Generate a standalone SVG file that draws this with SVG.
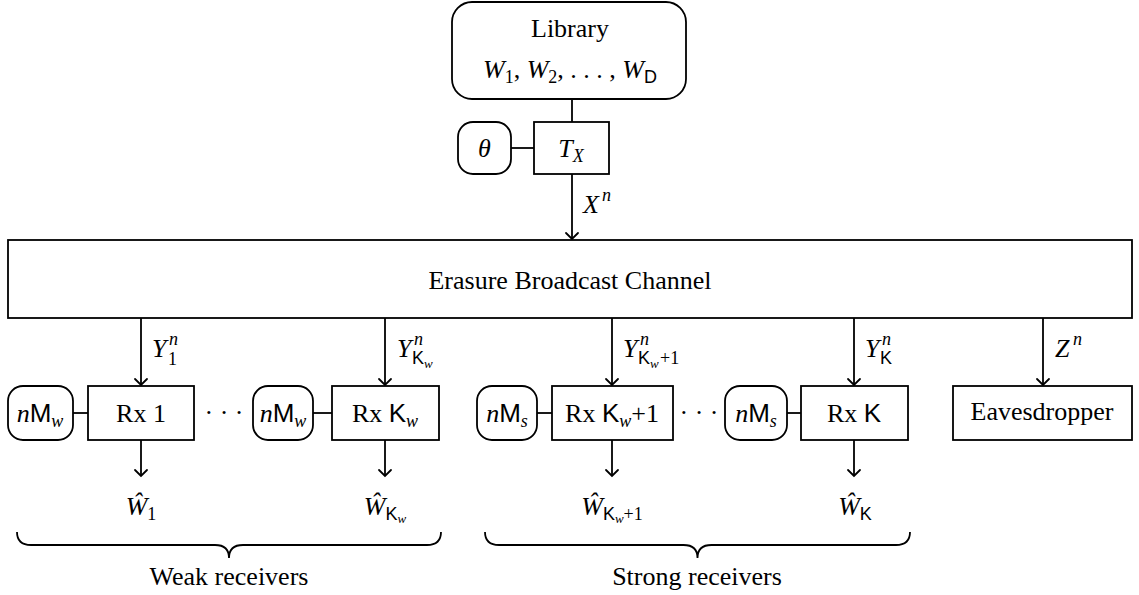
<svg xmlns="http://www.w3.org/2000/svg" width="1139" height="595" viewBox="0 0 1139 595">
<defs>
<style>
.box{fill:#fff;stroke:#000;stroke-width:1.8}
.ln{fill:none;stroke:#000;stroke-width:1.8}
.t{font-family:"Liberation Serif","Times New Roman",serif;font-size:26px;fill:#000}
.s{font-size:18px}
.ss{font-size:13px}
.it{font-family:"Liberation Serif","Times New Roman",serif;font-style:italic}
.sf{font-family:"Liberation Sans",Arial,sans-serif;font-style:normal}
.rm{font-family:"Liberation Serif","Times New Roman",serif;font-style:normal}
</style>
<marker id="arr" markerUnits="userSpaceOnUse" markerWidth="14" markerHeight="16" viewBox="-8 -8 10 16" refX="0" refY="0" orient="auto">
<path d="M-6,-6 Q-1.5,-1.5 0,0 Q-1.5,1.5 -6,6" fill="none" stroke="#000" stroke-width="1.8" stroke-linecap="round"/>
</marker>
</defs>
<rect width="1139" height="595" fill="#fff"/>

<g id="connectors">
<line class="ln" x1="572" y1="99" x2="572" y2="122"/>
<line class="ln" x1="511" y1="148" x2="534" y2="148"/>
<line class="ln" x1="572" y1="174" x2="572" y2="239" marker-end="url(#arr)"/>
<line class="ln" x1="141" y1="318" x2="141" y2="385" marker-end="url(#arr)"/>
<line class="ln" x1="385" y1="318" x2="385" y2="385" marker-end="url(#arr)"/>
<line class="ln" x1="612" y1="318" x2="612" y2="385" marker-end="url(#arr)"/>
<line class="ln" x1="854" y1="318" x2="854" y2="385" marker-end="url(#arr)"/>
<line class="ln" x1="1043" y1="318" x2="1043" y2="385" marker-end="url(#arr)"/>
<line class="ln" x1="73" y1="413" x2="88" y2="413"/>
<line class="ln" x1="313" y1="413" x2="332" y2="413"/>
<line class="ln" x1="537" y1="413" x2="552" y2="413"/>
<line class="ln" x1="787" y1="413" x2="801" y2="413"/>
<line class="ln" x1="141" y1="440" x2="141" y2="476" marker-end="url(#arr)"/>
<line class="ln" x1="385" y1="440" x2="385" y2="476" marker-end="url(#arr)"/>
<line class="ln" x1="612" y1="440" x2="612" y2="476" marker-end="url(#arr)"/>
<line class="ln" x1="854" y1="440" x2="854" y2="476" marker-end="url(#arr)"/>
<!-- connector labels -->
<text class="t it" x="583" y="213">X</text><text class="t it s" x="602" y="201">n</text>
<text class="t it" x="152" y="357">Y</text><text class="t it s" x="169" y="345">n</text><text class="t rm s" x="168" y="365">1</text>
<text class="t it" x="397" y="357">Y</text><text class="t it s" x="414" y="345">n</text><text class="t sf s" x="412" y="364">K</text><text class="t it ss" x="424" y="368">w</text>
<text class="t it" x="623" y="357">Y</text><text class="t it s" x="640" y="345">n</text><text class="t sf s" x="638" y="364">K</text><text class="t it ss" x="650" y="368">w</text><text class="t rm s" x="660" y="364">+1</text>
<text class="t it" x="865" y="357">Y</text><text class="t it s" x="882" y="345">n</text><text class="t sf s" x="880" y="364">K</text>
<text class="t it" x="1055" y="357">Z</text><text class="t it s" x="1073" y="345">n</text>
</g>

<g id="library">
<rect class="box" x="452" y="2" width="234" height="97" rx="20"/>
<text class="t" x="570" y="37" text-anchor="middle">Library</text>
<text class="t" x="570" y="78" text-anchor="middle"><tspan class="it">W</tspan><tspan font-size="18" dy="5">1</tspan><tspan dy="-5">, </tspan><tspan class="it">W</tspan><tspan font-size="18" dy="5">2</tspan><tspan dy="-5">, . . . , </tspan><tspan class="it">W</tspan><tspan class="sf" font-size="18" dy="5">D</tspan></text>
</g>

<g id="theta">
<rect class="box" x="458" y="122" width="53" height="52" rx="15"/>
<text class="t it" x="484.5" y="157" text-anchor="middle">θ</text>
</g>

<g id="tx">
<rect class="box" x="534" y="122" width="75" height="52"/>
<text class="t" x="571" y="157" text-anchor="middle"><tspan class="it">T</tspan><tspan class="it" font-size="18" dy="5">X</tspan></text>
</g>

<g id="channel">
<rect class="box" x="8" y="240" width="1124" height="78"/>
<text class="t" x="570" y="289" text-anchor="middle">Erasure Broadcast Channel</text>
</g>

<g id="nmw1">
<rect class="box" x="8" y="386" width="65" height="54" rx="15"/>
<text class="t" x="40" y="422" text-anchor="middle"><tspan class="it">n</tspan><tspan class="sf">M</tspan><tspan class="it" font-size="18" dy="5">w</tspan></text>
</g>
<g id="rx1">
<rect class="box" x="88" y="386" width="106" height="54"/>
<text class="t" x="141" y="422" text-anchor="middle">Rx 1</text>
</g>
<g id="dots1"><text class="t" x="224" y="421" text-anchor="middle">· · ·</text></g>
<g id="nmw2">
<rect class="box" x="253" y="386" width="60" height="54" rx="15"/>
<text class="t" x="283" y="422" text-anchor="middle"><tspan class="it">n</tspan><tspan class="sf">M</tspan><tspan class="it" font-size="18" dy="5">w</tspan></text>
</g>
<g id="rxkw">
<rect class="box" x="332" y="386" width="107" height="54"/>
<text class="t" x="385" y="422" text-anchor="middle">Rx <tspan class="sf">K</tspan><tspan class="it" font-size="18" dy="5">w</tspan></text>
</g>
<g id="nms1">
<rect class="box" x="477" y="386" width="60" height="54" rx="15"/>
<text class="t" x="507" y="422" text-anchor="middle"><tspan class="it">n</tspan><tspan class="sf">M</tspan><tspan class="it" font-size="18" dy="5">s</tspan></text>
</g>
<g id="rxkw1">
<rect class="box" x="552" y="386" width="121" height="54"/>
<text class="t" x="612" y="422" text-anchor="middle">Rx <tspan class="sf">K</tspan><tspan class="it" font-size="18" dy="5">w</tspan><tspan dy="-5">+1</tspan></text>
</g>
<g id="dots2"><text class="t" x="699" y="421" text-anchor="middle">· · ·</text></g>
<g id="nms2">
<rect class="box" x="725" y="386" width="62" height="54" rx="15"/>
<text class="t" x="756" y="422" text-anchor="middle"><tspan class="it">n</tspan><tspan class="sf">M</tspan><tspan class="it" font-size="18" dy="5">s</tspan></text>
</g>
<g id="rxk">
<rect class="box" x="801" y="386" width="107" height="54"/>
<text class="t" x="854" y="422" text-anchor="middle">Rx <tspan class="sf">K</tspan></text>
</g>
<g id="eve">
<rect class="box" x="953" y="386" width="179" height="54"/>
<text class="t" x="1042" y="420" text-anchor="middle">Eavesdropper</text>
</g>

<g id="outputs">
<text class="t" x="141" y="515" text-anchor="middle"><tspan class="it">Ŵ</tspan><tspan font-size="18" dy="5">1</tspan></text>
<text class="t" x="385" y="515" text-anchor="middle"><tspan class="it">Ŵ</tspan><tspan class="sf" font-size="18" dy="5">K</tspan><tspan class="it" font-size="13" dy="3">w</tspan></text>
<text class="t" x="612" y="515" text-anchor="middle"><tspan class="it">Ŵ</tspan><tspan class="sf" font-size="18" dy="5">K</tspan><tspan class="it" font-size="13" dy="3">w</tspan><tspan font-size="18" dy="-3">+1</tspan></text>
<text class="t" x="855" y="515" text-anchor="middle"><tspan class="it">Ŵ</tspan><tspan class="sf" font-size="18" dy="5">K</tspan></text>
</g>

<g id="weak">
<path class="ln" d="M17,532 Q17,545 31,545 L215,545 Q229,545 229,558 Q229,545 243,545 L427,545 Q441,545 441,532"/>
<text class="t" x="229" y="585" text-anchor="middle">Weak receivers</text>
</g>
<g id="strong">
<path class="ln" d="M485,532 Q485,545 499,545 L683.5,545 Q697.5,545 697.5,558 Q697.5,545 711.5,545 L896,545 Q910,545 910,532"/>
<text class="t" x="697" y="585" text-anchor="middle">Strong receivers</text>
</g>
</svg>
